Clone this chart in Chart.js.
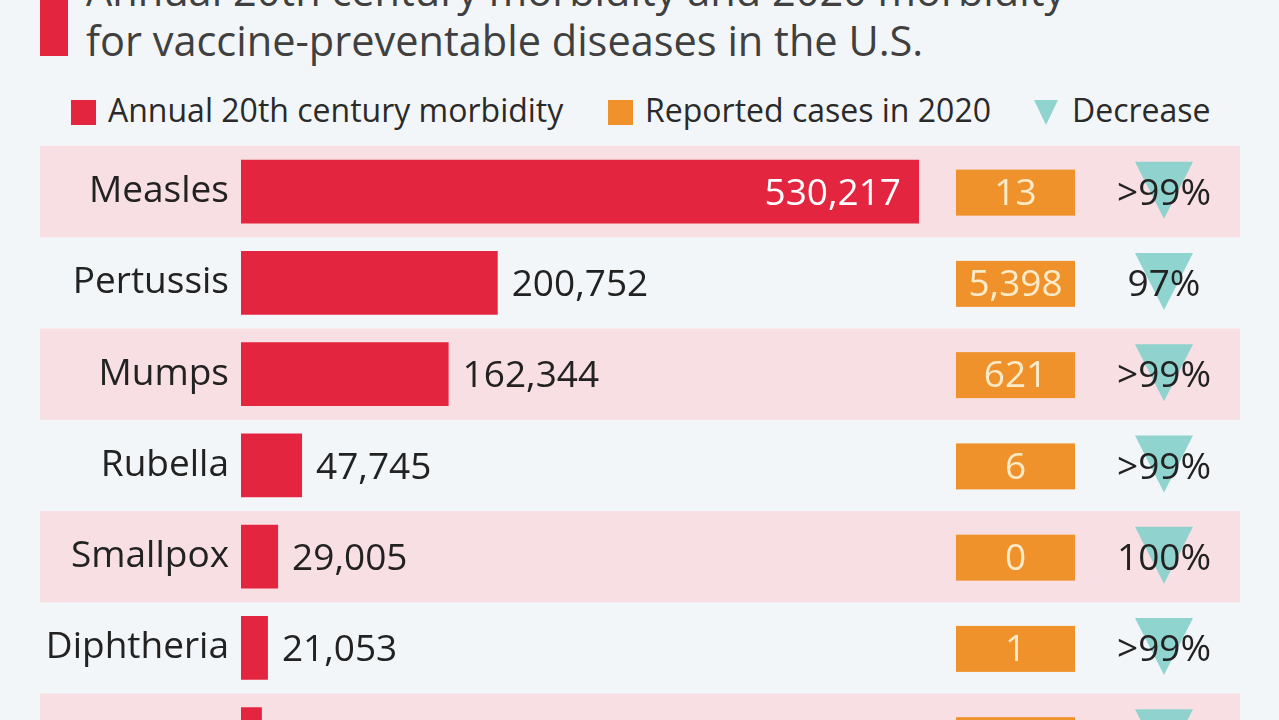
<!DOCTYPE html>
<html>
<head>
<meta charset="utf-8">
<script src="https://cdn.jsdelivr.net/npm/chart.js@4"></script>
<style>
  html, body { margin:0; padding:0; }
  body { width:1279px; height:720px; overflow:hidden; background:#f3f6f8; position:relative; font-family:"Open Sans", sans-serif; }
  #accent { position:absolute; left:40px; top:0; width:28px; height:56px; background:#e3253f; }
  #title { position:absolute; left:86px; top:-35px; font-size:41.5px; line-height:50px; color:#404040; white-space:nowrap; }
  #legend { position:absolute; left:0; top:90px; height:40px; font-size:32px; line-height:40px; color:#2a2a2a; white-space:nowrap; }
  .lg { position:absolute; top:0; }
  .sw { position:absolute; width:25px; height:25px; top:10px; }
  .tri { position:absolute; top:10px; width:0; height:0; border-left:12px solid transparent; border-right:12px solid transparent; border-top:25px solid #8fd4cf; }
  #wrap { position:absolute; left:0; top:0; width:1279px; height:819px; }
</style>
</head>
<body>
<div id="accent"></div>
<div id="title">Annual 20th century morbidity and 2020 morbidity<br>for vaccine-preventable diseases in the U.S.</div>
<div id="legend">
  <div class="sw" style="left:71px;background:#e3253f"></div>
  <div class="lg" style="left:108px">Annual 20th century morbidity</div>
  <div class="sw" style="left:608px;background:#f0922c"></div>
  <div class="lg" style="left:645px">Reported cases in 2020</div>
  <div class="tri" style="left:1034px"></div>
  <div class="lg" style="left:1072px">Decrease</div>
</div>
<div id="wrap"><canvas id="c" width="1279" height="819"></canvas></div>
<script>
const categories = ['Measles', 'Pertussis', 'Mumps', 'Rubella', 'Smallpox', 'Diphtheria', 'Polio'];
const morbidity20th = [530217, 200752, 162344, 47745, 29005, 21053, 16316];
const reported2020 = [13, 5398, 621, 6, 0, 1, 0];
const decrease = ['>99%', '97%', '>99%', '>99%', '100%', '>99%', '100%'];

const RED = '#e3253f', ORANGE = '#f0922c', TEAL = 'rgba(132,208,202,0.9)', PINK = '#f8dfe3';
const FONT = '"Open Sans", sans-serif';
const fmt = v => v.toLocaleString('en-US');

const decor = {
  id: 'decor',
  beforeDraw(chart) {
    const ctx = chart.ctx, y = chart.scales.y;
    const half = (y.getPixelForValue(1) - y.getPixelForValue(0)) / 2;
    ctx.save();
    ctx.fillStyle = PINK;
    categories.forEach((c, i) => {
      if (i % 2 === 0) {
        const cy = y.getPixelForValue(i);
        ctx.fillRect(40, cy - half, 1200, half * 2);
      }
    });
    ctx.restore();
  },
  afterDatasetsDraw(chart) {
    const ctx = chart.ctx, area = chart.chartArea;
    const meta = chart.getDatasetMeta(0);
    ctx.save();
    const size = 37;
    ctx.font = '400 ' + size + 'px ' + FONT;
    ctx.textBaseline = 'alphabetic';
    meta.data.forEach((bar, i) => {
      const cy = bar.y;
      const base = cy + size * 0.357;
      const label = fmt(morbidity20th[i]);
      const w = ctx.measureText(label).width;
      if (bar.x + 14 + w > area.right) {
        ctx.fillStyle = '#ffffff';
        ctx.textAlign = 'right';
        ctx.fillText(label, bar.x - 18, base);
      } else {
        ctx.fillStyle = '#222222';
        ctx.textAlign = 'left';
        ctx.fillText(label, bar.x + 14, base);
      }
      ctx.fillStyle = ORANGE;
      ctx.fillRect(956, cy - 22, 119, 46);
      ctx.fillStyle = '#fdebc9';
      ctx.textAlign = 'center';
      ctx.fillText(fmt(reported2020[i]), 1015.5, base);
      ctx.fillStyle = TEAL;
      ctx.beginPath();
      ctx.moveTo(1135, cy - 30);
      ctx.lineTo(1193, cy - 30);
      ctx.lineTo(1164, cy + 27);
      ctx.closePath();
      ctx.fill();
      ctx.fillStyle = '#222222';
      ctx.fillText(decrease[i], 1164, base);
    });
    ctx.restore();
  }
};

new Chart(document.getElementById('c'), {
  type: 'bar',
  data: {
    labels: categories,
    datasets: [{
      data: morbidity20th,
      backgroundColor: RED,
      borderWidth: 0,
      categoryPercentage: 1,
      barPercentage: 0.7
    }]
  },
  options: {
    indexAxis: 'y',
    responsive: false,
    devicePixelRatio: 1,
    animation: false,
    layout: { padding: { left: 0, right: 360, top: 146, bottom: 31 } },
    plugins: { legend: { display: false }, tooltip: { enabled: false } },
    scales: {
      x: { display: false, min: 0, max: 530217 },
      y: {
        grid: { display: false, drawTicks: false },
        border: { display: false },
        ticks: { color: '#222222', padding: 12, font: { family: FONT, size: 37 } },
        afterFit(scale) { scale.width = 241; }
      }
    }
  },
  plugins: [decor]
});
</script>
</body>
</html>
